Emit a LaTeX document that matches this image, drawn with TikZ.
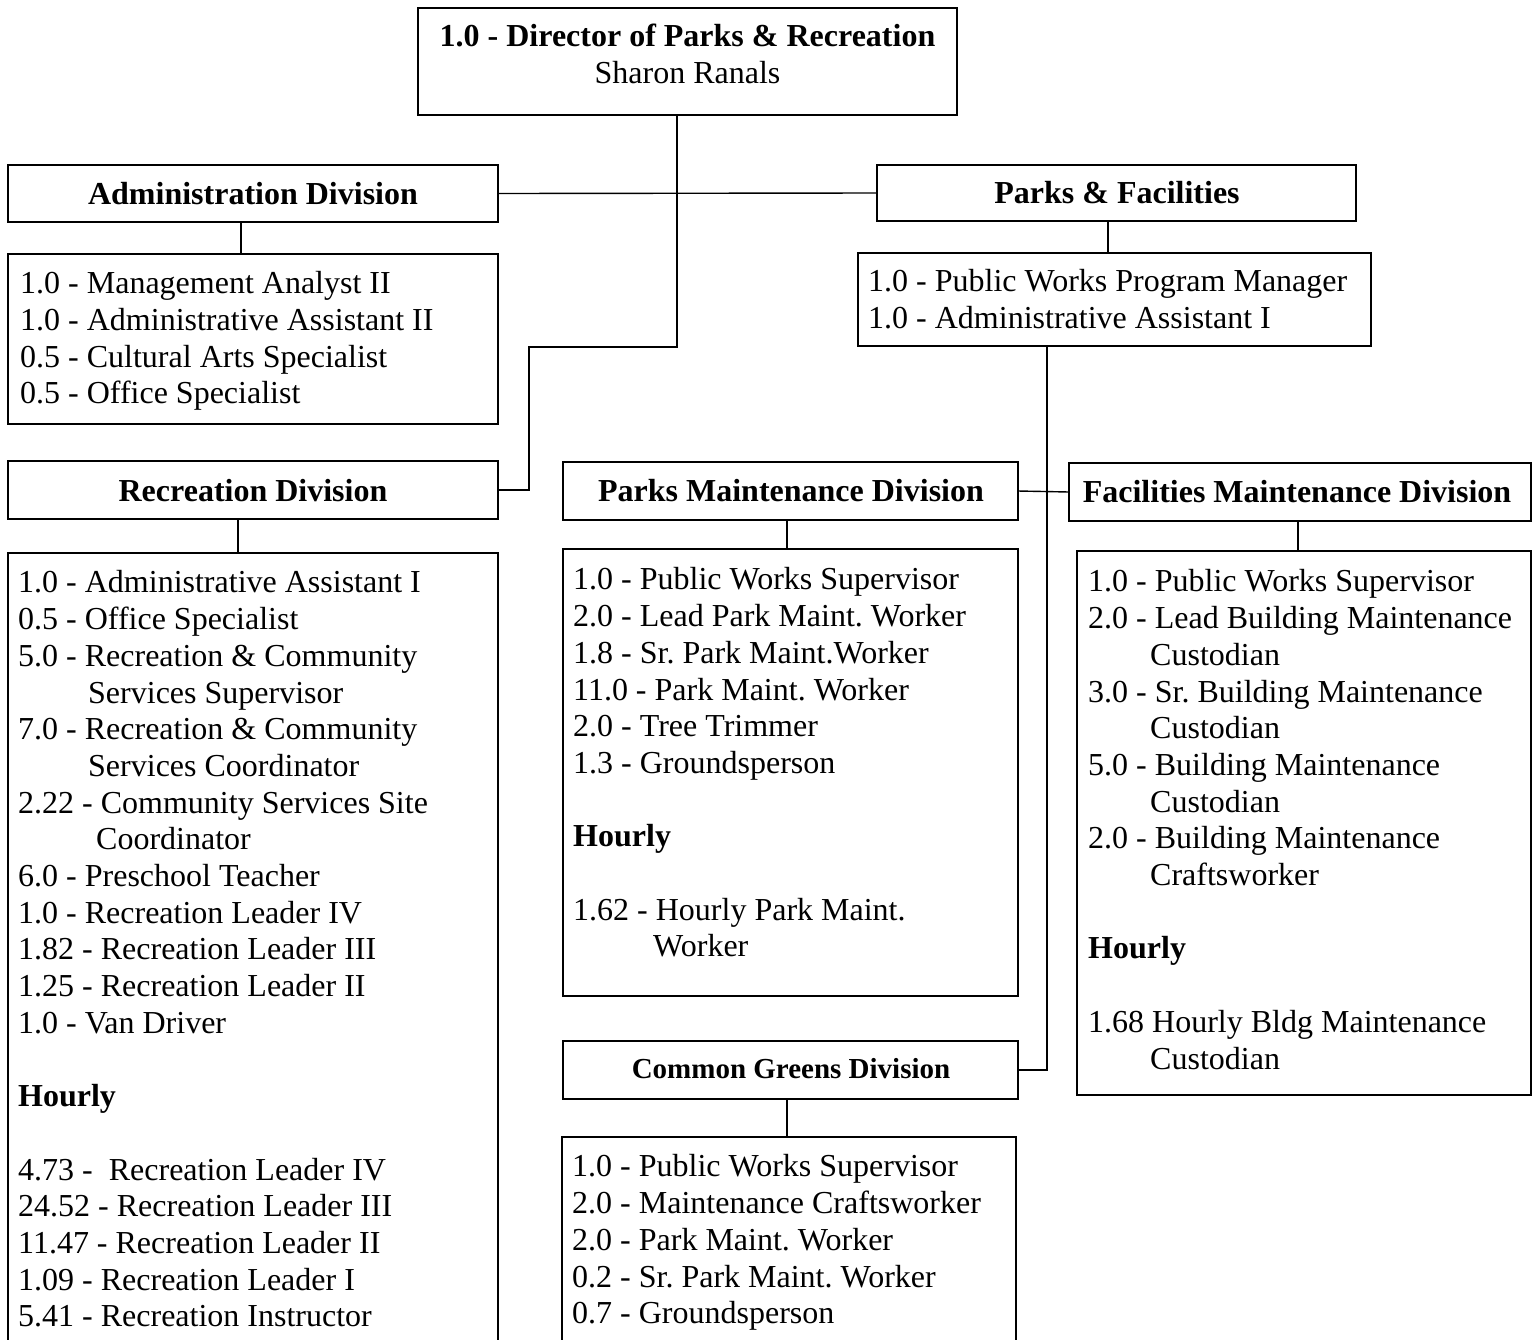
\documentclass[tikz,border=0pt]{standalone}
\usepackage{fontspec}
\setmainfont{Liberation Serif}
\usetikzlibrary{calc}

\tikzset{
  box/.style={draw, line width=2.6pt, rectangle, inner sep=0pt, outer sep=0pt},
  conn/.style={line width=1.4pt},
  ttl/.style={font=\fontsize{32}{36.7}\selectfont\bfseries, inner sep=0pt},
  smallttl/.style={font=\fontsize{29}{33}\selectfont\bfseries, inner sep=0pt},
  lst/.style={font=\fontsize{32}{36.7}\selectfont\frenchspacing, align=left, inner sep=0pt, anchor=north west}
}

% \orgbox{name}{x1}{y1}{x2}{y2}: an empty framed box given by its corners
\newcommand\orgbox[5]{%
  \node[box, anchor=north west,
        minimum width={(#4-#2)*1pt}, minimum height={(#5-#3)*1pt}] (#1) at (#2,#3) {};}
\newcommand\ind[1]{\hspace*{#1pt}}

\begin{document}
\begin{tikzpicture}[x=1pt,y=-1pt]
\useasboundingbox (0,0) rectangle (1536,1339);
\clip (0,0) rectangle (1536,1339);

% ---- boxes ----
\orgbox{dir}{418}{8}{957}{115}
\orgbox{adm}{8}{165}{498}{222}
\orgbox{admlist}{8}{254}{498}{424}
\orgbox{rec}{8}{461}{498}{519}
\orgbox{reclist}{8}{553}{498}{1400}
\orgbox{pf}{877}{165}{1356}{221}
\orgbox{pflist}{858}{253}{1371}{346}
\orgbox{pm}{563}{462}{1018}{520}
\orgbox{pmlist}{563}{549}{1018}{996}
\orgbox{fm}{1069}{463}{1531}{521}
\orgbox{fmlist}{1077}{551}{1531}{1095}
\orgbox{cg}{563}{1041}{1018}{1099}
\orgbox{cglist}{562}{1137}{1016}{1400}

% ---- titles ----
\node[lst, align=center, anchor=north] (dirT) at (687.5,21)
  {\strut\textbf{1.0 - Director of Parks \& Recreation}\\Sharon Ranals};
\node[ttl, anchor=base] (admT) at (253,204.7) {Administration Division};
\node[ttl, anchor=base] (recT) at (253,501.7) {Recreation Division};
\node[ttl, anchor=base] (pfT) at (1117,203.7) {Parks \& Facilities};
\node[ttl, anchor=base] (pmT) at (791,501.7) {Parks Maintenance Division};
\node[ttl, anchor=base] (fmT) at (1297,502.7) {Facilities Maintenance Division};
\node[smallttl, anchor=base] (cgT) at (791,1078.7) {Common Greens Division};

% ---- staff lists ----
\node[lst] (admL) at (20,268) {\strut 1.0 - Management Analyst II\\
1.0 - Administrative Assistant II\\
0.5 - Cultural Arts Specialist\\
0.5 - Office Specialist};

\node[lst] (pfL) at (868,266) {\strut 1.0 - Public Works Program Manager\\
1.0 - Administrative Assistant I};

\node[lst] (recL) at (18,567) {\strut 1.0 - Administrative Assistant I\\
0.5 - Office Specialist\\
5.0 - Recreation \& Community\\
\ind{70}Services Supervisor\\
7.0 - Recreation \& Community\\
\ind{70}Services Coordinator\\
2.22 - Community Services Site\\
\ind{78}Coordinator\\
6.0 - Preschool Teacher\\
1.0 - Recreation Leader IV\\
1.82 - Recreation Leader III\\
1.25 - Recreation Leader II\\
1.0 - Van Driver\\[36.7pt]
\textbf{Hourly}\\[36.7pt]
4.73 -\ \ Recreation Leader IV\\
24.52 - Recreation Leader III\\
11.47 - Recreation Leader II\\
1.09 - Recreation Leader I\\
5.41 - Recreation Instructor};

\node[lst] (pmL) at (573,564) {\strut 1.0 - Public Works Supervisor\\
2.0 - Lead Park Maint. Worker\\
1.8 - Sr. Park Maint.Worker\\
11.0 - Park Maint. Worker\\
2.0 - Tree Trimmer\\
1.3 - Groundsperson\\[36.7pt]
\textbf{Hourly}\\[36.7pt]
1.62 - Hourly Park Maint.\\
\ind{80}Worker};

\node[lst] (fmL) at (1088,566) {\strut 1.0 - Public Works Supervisor\\
2.0 - Lead Building Maintenance\\
\ind{62}Custodian\\
3.0 - Sr. Building Maintenance\\
\ind{62}Custodian\\
5.0 - Building Maintenance\\
\ind{62}Custodian\\
2.0 - Building Maintenance\\
\ind{62}Craftsworker\\[36.7pt]
\textbf{Hourly}\\[36.7pt]
1.68 Hourly Bldg Maintenance\\
\ind{62}Custodian};

\node[lst] (cgL) at (572,1151) {\strut 1.0 - Public Works Supervisor\\
2.0 - Maintenance Craftsworker\\
2.0 - Park Maint. Worker\\
0.2 - Sr. Park Maint. Worker\\
0.7 - Groundsperson};

% ---- connectors ----
\coordinate (trunk) at (677,347);
\coordinate (jog) at (529,347);
\draw[conn] (trunk |- dir.south) -- (trunk) -- (jog) -- (jog |- rec.east) -- (rec.east);
\draw[conn] (adm.east) -- (pf.west);

\coordinate (admX) at (241,0);
\draw[conn] (admX |- adm.south) -- (admX |- admlist.north);
\coordinate (recX) at (238,0);
\draw[conn] (recX |- rec.south) -- (recX |- reclist.north);
\coordinate (pfX) at (1108,0);
\draw[conn] (pfX |- pf.south) -- (pfX |- pflist.north);

\coordinate (spine) at (1047,0);
\draw[conn] (spine |- pflist.south) -- (spine |- cg.east) -- (cg.east);
\draw[conn] (pm.east) -- (fm.west);

\coordinate (pmX) at (787,0);
\draw[conn] (pmX |- pm.south) -- (pmX |- pmlist.north);
\draw[conn] (pmX |- cg.south) -- (pmX |- cglist.north);
\coordinate (fmX) at (1298,0);
\draw[conn] (fmX |- fm.south) -- (fmX |- fmlist.north);
\end{tikzpicture}
\end{document}
